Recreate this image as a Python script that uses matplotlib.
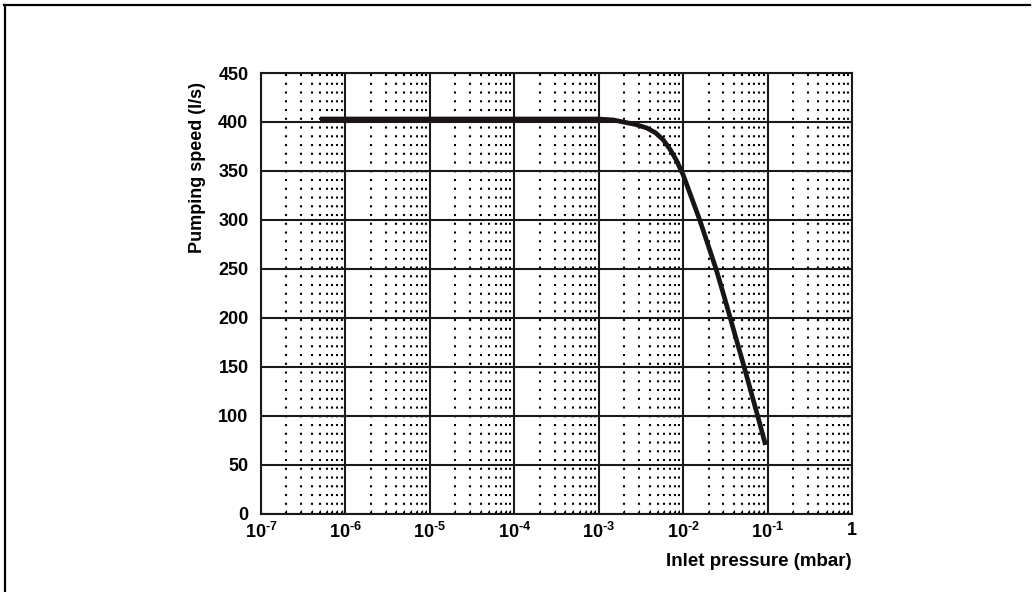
import matplotlib.pyplot as plt
import numpy as np
from matplotlib.lines import Line2D

plt.rcParams['font.family'] = ['Liberation Sans', 'DejaVu Sans']
plt.rcParams['mathtext.fontset'] = 'custom'
plt.rcParams['mathtext.rm'] = 'Liberation Sans:bold'
plt.rcParams['mathtext.bf'] = 'Liberation Sans:bold'
plt.rcParams['mathtext.default'] = 'rm'

# 曲線データ
pressure = [5e-7, 1e-4, 1e-3, 1.5e-3, 1.94e-3, 2.7e-3, 3.67e-3, 4.7e-3, 5.77e-3,
            7e-3, 8.3e-3, 1e-2, 1.57e-2, 2.47e-2, 3.1e-2, 3.55e-2, 5.35e-2,
            7.67e-2, 9.46e-2]
speed = [403, 403, 403, 402, 400, 397.5, 394, 389, 382,
         372, 361, 346, 300, 249, 220, 202, 148,
         99, 70]

xticks = [1e-7, 1e-6, 1e-5, 1e-4, 1e-3, 1e-2, 1e-1, 1]
xtick_labels = [r'$10^{\text{-}7}$', r'$10^{\text{-}6}$', r'$10^{\text{-}5}$',
                r'$10^{\text{-}4}$', r'$10^{\text{-}3}$', r'$10^{\text{-}2}$',
                r'$10^{\text{-}1}$', '1']
yticks = [0, 50, 100, 150, 200, 250, 300, 350, 400, 450]

W, H = 1034, 592
fig = plt.figure(figsize=(W / 100, H / 100), dpi=100)
ax = fig.add_axes([261 / W, 1 - 513.5 / H, (852 - 261) / W, (513.5 - 73) / H])

ax.set_xscale('log')
ax.set_xlim(1e-7, 1)
ax.set_ylim(0, 450)

# 主グリッド
ax.set_xticks(xticks)
ax.set_xticklabels(xtick_labels)
ax.set_yticks(yticks)
ax.set_yticklabels([str(v) for v in yticks])
ax.grid(True, which='major', color='#1a1a1a', linewidth=1.5)

# 補助グリッド（点線）
ax.xaxis.set_minor_locator(plt.LogLocator(base=10, subs=np.arange(2, 10), numticks=20))
ax.xaxis.set_minor_formatter(plt.NullFormatter())
ax.grid(True, which='minor', axis='x', color='black', linewidth=1.5,
        linestyle=(4.0, (1, 3.2)))

ax.tick_params(axis='both', which='major', length=0, labelsize=13)
ax.tick_params(axis='y', which='major', pad=9)
ax.tick_params(axis='x', which='major', pad=6)
ax.tick_params(axis='x', which='minor', direction='in', length=3, width=0.8,
               top=False)
ax.tick_params(axis='y', which='minor', length=0)
for lab in ax.get_xticklabels() + ax.get_yticklabels():
    lab.set_fontweight('bold')

for s in ax.spines.values():
    s.set_linewidth(1.5)
    s.set_color('#1a1a1a')

# 曲線
ax.plot(pressure, speed, color='#1a1414', linewidth=3.4, solid_capstyle='butt')

# 軸ラベル
fig.text(198 / W, 1 - 82 / H, 'Pumping speed (l/s)', rotation=90, ha='center',
         va='top', fontsize=13, fontweight='bold')
fig.text(852 / W, 1 - 562 / H, 'Inlet pressure (mbar)', ha='right', va='center',
         fontsize=13.5, fontweight='bold')

# 外枠
fig.add_artist(Line2D([5 / W, 5 / W], [0, 1 - 5 / H], color='black', linewidth=1.6,
                      transform=fig.transFigure))
fig.add_artist(Line2D([4 / W, 1030 / W], [1 - 5 / H, 1 - 5 / H], color='black',
                      linewidth=1.6, transform=fig.transFigure))

fig.savefig('out.png', dpi=100)
plt.close(fig)
